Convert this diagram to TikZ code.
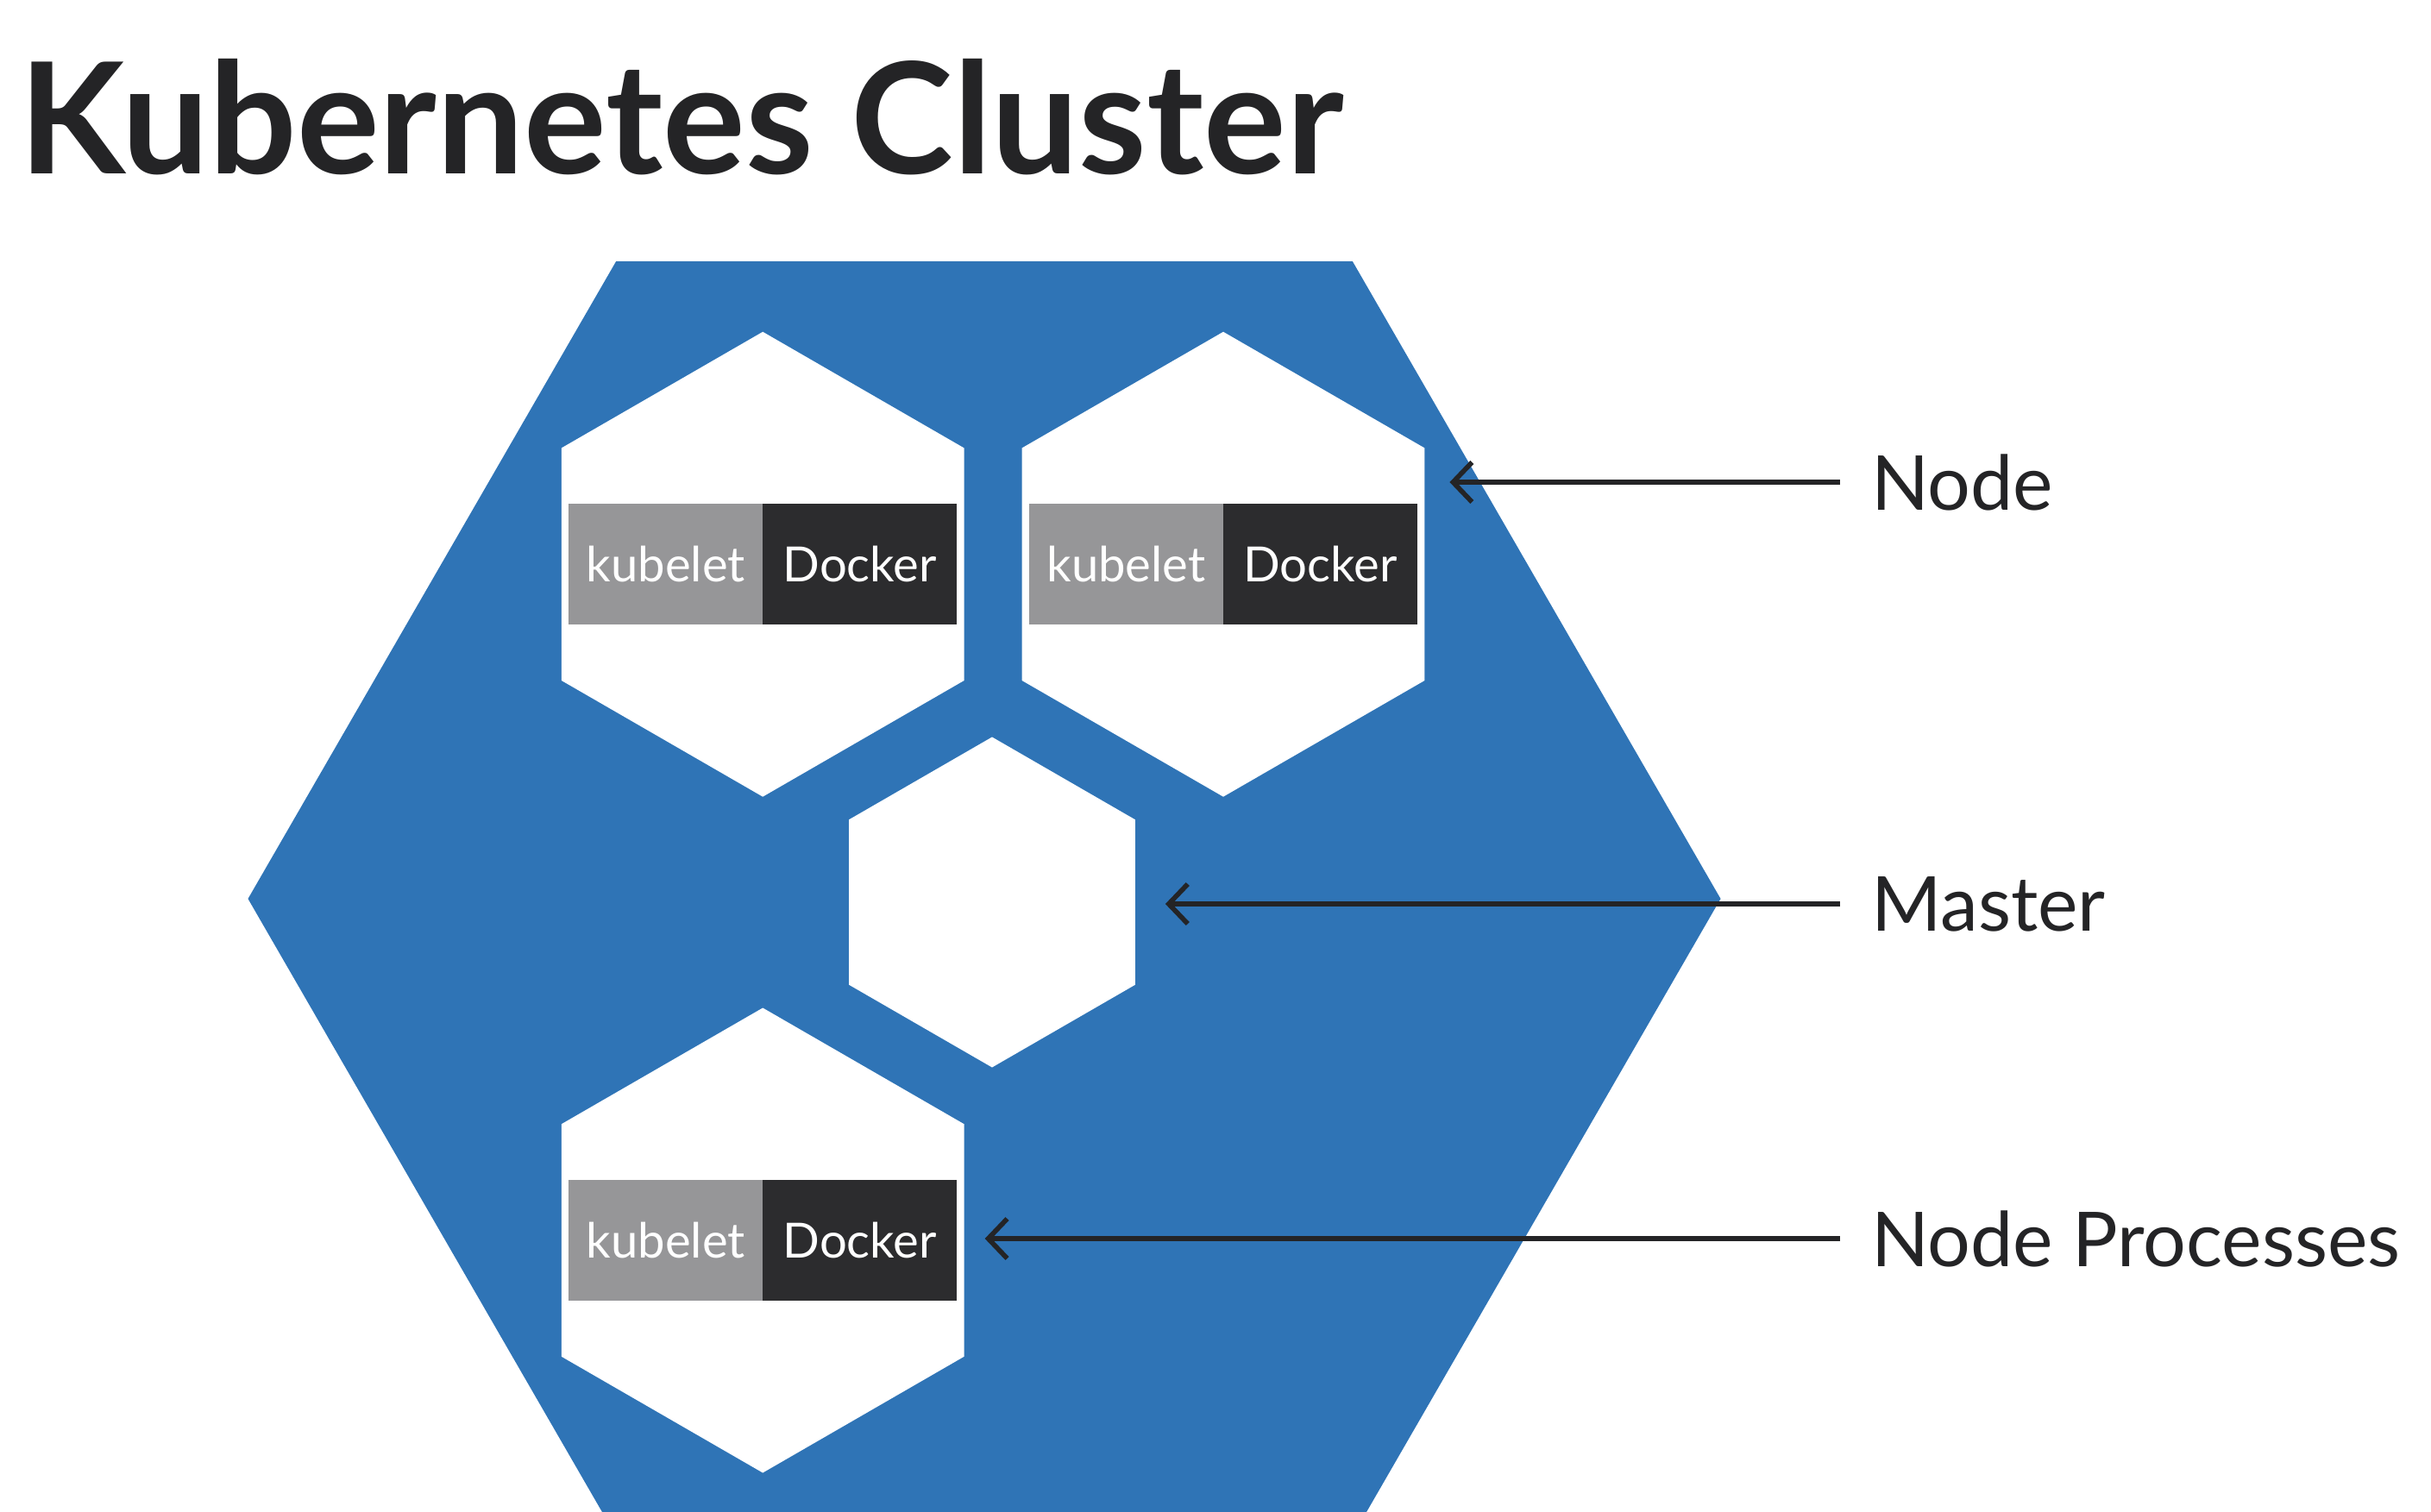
\documentclass[tikz,border=0pt]{standalone}
\usepackage{fontspec}
\setmainfont{Lato}
\usetikzlibrary{positioning,arrows.meta,shapes.geometric}
\usepackage{xcolor}

\definecolor{kubeblue}{RGB}{47,116,182}
\definecolor{kubegray}{RGB}{150,150,152}
\definecolor{dockgray}{RGB}{44,44,46}
\definecolor{inkgray}{RGB}{36,36,38}

\begin{document}
\begin{tikzpicture}[
  hexnode/.style={regular polygon, regular polygon sides=6, shape border rotate=90,
    fill=white, inner sep=0pt, outer sep=0pt, minimum size=#1},
  clusterhex/.style={regular polygon, regular polygon sides=6,
    fill=kubeblue, inner sep=0pt, outer sep=0pt, minimum size=17.07cm},
  procbox/.style={rectangle, minimum width=2.25cm, minimum height=1.40cm,
    inner sep=0pt, outer sep=0pt, text=white, font=\fontsize{16}{16}\selectfont},
  sidetext/.style={anchor=west, inner sep=0pt, outer sep=0.36cm, text=inkgray,
    font=\fontsize{25}{25}\selectfont},
  pointer/.style={draw=inkgray, line width=1.6pt, -{Straight Barb[length=2.2mm,width=4.6mm]}}
]

% Page frame (the cluster is cut at the bottom)
\useasboundingbox (0,0) rectangle (28.18,-17.52);
\clip (0,0) rectangle (28.18,-17.52);

% Title
\node[anchor=base west, inner sep=0pt, text=inkgray,
  font=\fontsize{51}{51}\selectfont\bfseries] (title) at (0.22,-2.01) {Kubernetes Cluster};

% The cluster
\node[clusterhex] (cluster) at (11.41,-10.42) {};

% Worker nodes with their processes
\foreach \n/\x/\y in {A/8.842/-6.542, B/14.18/-6.542, C/8.842/-14.38} {
  \node[hexnode=5.39cm] (hex\n) at (\x,\y) {};
  \node[procbox, fill=kubegray, anchor=east] (kub\n) at (hex\n.center) {kubelet};
  \node[procbox, fill=dockgray, right=0pt of kub\n] (dock\n) {Docker};
}

% Master
\node[hexnode=3.83cm] (master) at (11.50,-10.46) {};

% Labels on the right
\node[sidetext] (lblNode) at (21.33,-5.59) {Node};
\node[sidetext] (lblMaster) at (21.33,-10.48) {Master};
\node[sidetext] (lblProc) at (21.33,-14.36) {Node Processes};

\draw[pointer, shorten >=0.29cm] (lblNode.west) -- (lblNode.west -| hexB.east);
\draw[pointer, shorten >=0.35cm] (lblMaster.west) -- (lblMaster.west -| master.east);
\draw[pointer, shorten >=0.24cm] (lblProc.west) -- (lblProc.west -| hexC.east);
\end{tikzpicture}
\end{document}
